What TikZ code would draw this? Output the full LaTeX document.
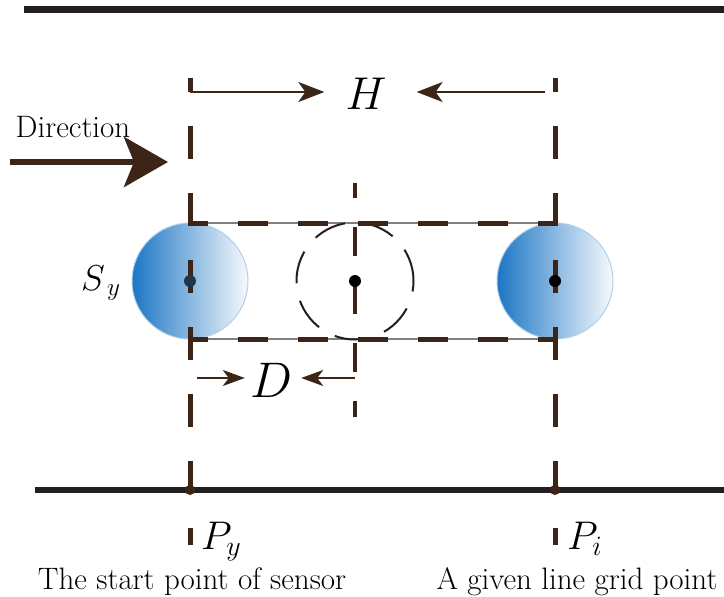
\documentclass[tikz,border=0pt]{standalone}
\usepackage{fix-cm}
\usetikzlibrary{arrows.meta}
\definecolor{brn}{RGB}{60,36,22}
\definecolor{blk}{RGB}{35,31,32}
\definecolor{sblue}{RGB}{28,118,196}
\begin{document}
\begin{tikzpicture}[x=1pt,y=-1pt,
  rail/.style={line width=7pt,color=blk},
  guide/.style={brn,line width=5pt,dash pattern=on 33pt off 34pt,dash phase=19pt},
  midguide/.style={brn,line width=4pt,dash pattern=on 29pt off 29pt,dash phase=14pt},
  thinedge/.style={gray,line width=1.2pt},
  edgedash/.style={brn,line width=5pt,dash pattern=on 30pt off 30pt,dash phase=12pt},
  sensor/.style={circle,minimum size=116pt,inner sep=0pt,left color=sblue,right color=sblue!4,draw=sblue!35,line width=1pt},
  ghost/.style={circle,minimum size=117pt,inner sep=0pt,draw=blk,line width=2pt,dash pattern=on 33pt off 18pt},
  dimarrow/.style={brn,line width=2.2pt,-{Stealth[length=26pt,width=20pt,inset=7pt]}},
  smallarrow/.style={brn,line width=2.2pt,-{Stealth[length=22pt,width=16pt,inset=6pt]}},
  bigarrow/.style={brn,line width=6pt,-{Stealth[length=44pt,width=50pt,inset=10pt]}},
  lbl/.style={inner sep=0pt,font=\fontsize{31}{35}\selectfont},
  mlbl/.style={inner sep=0pt}
]
\useasboundingbox (0,0) rectangle (724,597);
% rails
\coordinate (topL) at (24,9);
\coordinate (topR) at (724,9);
\coordinate (botL) at (35,490);
\coordinate (botR) at (724,490);
\draw[rail] (topL) -- (topR);
\draw[rail,line width=6pt] (botL) -- (botR);
% sensors
\node[sensor] (sL) at (190,281) {};
\node[sensor] (sR) at (555,281) {};
% rectangle thin edges
\coordinate (rTL) at (190,223);
\coordinate (rTR) at (555,223);
\coordinate (rBL) at (190,339);
\coordinate (rBR) at (555,339);
\draw[thinedge] (rTL) -- (rTR);
\draw[thinedge] (rBL) -- (rBR);
% ghost circle
\node[ghost] (sM) at (355,281) {};
% guides
\coordinate (gLt) at (190,78);
\coordinate (gLb) at (190,545);
\coordinate (gRt) at (555,78);
\coordinate (gRb) at (555,545);
\coordinate (gMt) at (355,183);
\coordinate (gMb) at (355,417);
\draw[guide] (gLt) -- (gLb);
\draw[guide] (gRt) -- (gRb);
\draw[midguide] (gMt) -- (gMb);
\draw[edgedash] (rTL) -- (rTR);
\draw[edgedash] (rBL) -- (rBR);
% dots
\fill[blk!75!sblue] (sL.center) circle (6pt);
\fill[black] (sM.center) circle (6pt);
\fill[black] (sR.center) circle (6pt);
\coordinate (Py) at (190,490);
\coordinate (Pi) at (555,490);
\fill[brn] (Py) circle (5pt);
\fill[brn] (Pi) circle (5pt);
% H dimension
\node[mlbl,font=\fontsize{46}{50}\selectfont] (H) at (366,94) {$H$};
\coordinate (hLs) at (190,92);
\coordinate (hRs) at (545,92);
\draw[dimarrow,shorten >=21pt] (hLs) -- (hLs -| H.west);
\draw[dimarrow,shorten >=30pt] (hRs) -- (hRs -| H.east);
% D dimension
\node[mlbl,font=\fontsize{50}{54}\selectfont] (D) at (272,380) {$D$};
\coordinate (dLs) at (197,378);
\coordinate (dRs) at (355,378);
\draw[smallarrow,shorten >=6pt] (dLs) -- (dLs -| D.west);
\draw[smallarrow,shorten >=8pt] (dRs) -- (dRs -| D.east);
% direction
\node[lbl] (dir) at (73,127) {Direction};
\coordinate (dirS) at (10,162);
\coordinate (dirE) at (168,162);
\draw[bigarrow] (dirS) -- (dirE);
% labels
\node[mlbl,anchor=base west,font=\fontsize{36}{40}\selectfont] (Sy) at (81,290) {$S_{\,y}$};
\node[mlbl,anchor=base west,font=\fontsize{40}{44}\selectfont] (Pyl) at (201,549) {$P_y$};
\node[mlbl,anchor=base west,font=\fontsize{40}{44}\selectfont] (Pil) at (567,549) {$P_i$};
\node[lbl,anchor=base] (t1) at (192,589) {The start point of sensor};
\node[lbl,anchor=base] (t2) at (577,589) {A given line grid point};
\end{tikzpicture}
\end{document}
